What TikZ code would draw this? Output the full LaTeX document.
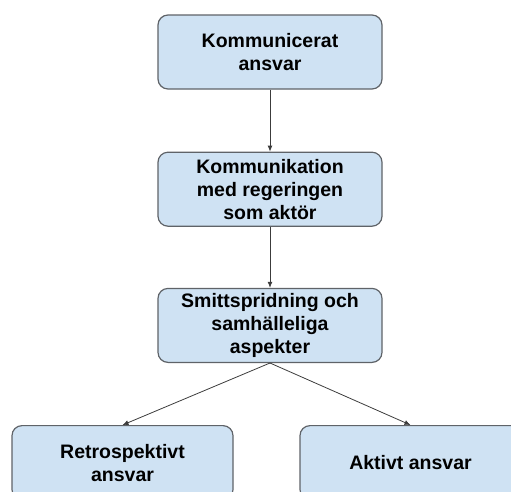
\documentclass[tikz,border=0pt]{standalone}
\usepackage{fontspec}
\setmainfont{Liberation Sans}
\usepackage{tikz}
\usetikzlibrary{arrows.meta, positioning}
\definecolor{boxfill}{HTML}{CFE2F3}
\definecolor{boxline}{HTML}{5F6368}
\definecolor{arrline}{HTML}{3C3C3C}

\begin{document}
\begin{tikzpicture}[x=1pt, y=-1pt, node distance=62pt,
  box/.style={rectangle, rounded corners=10pt, minimum width=224pt, minimum height=74pt,
    align=center, fill=boxfill, draw=boxline, line width=1.2pt, inner sep=0pt,
    font=\fontsize{19.5}{23}\selectfont\bfseries},
  arr/.style={-{Latex[length=6pt, width=5pt]}, line width=0.8pt, color=arrline}]

  \useasboundingbox (0,0) rectangle (511,491);

  \node[box] (komm) at (270,52) {Kommunicerat\\ansvar};
  \node[box, below=of komm] (reg) {Kommunikation\\med regeringen\\som aktör};
  \node[box, below=61pt of reg] (smitta) {Smittspridning och\\samhälleliga\\aspekter};
  \node[box, minimum width=221pt, below=62pt of smitta, xshift=-147.5pt] (retro) {Retrospektivt\\ansvar};
  \node[box, minimum width=221pt, below=62pt of smitta, xshift=140.5pt] (aktiv) {Aktivt ansvar};

  \draw[arr] (komm) -- (reg);
  \draw[arr] (reg) -- (smitta);
  \draw[arr] (smitta.south) -- (retro.north);
  \draw[arr] (smitta.south) -- (aktiv.north);
\end{tikzpicture}
\end{document}
